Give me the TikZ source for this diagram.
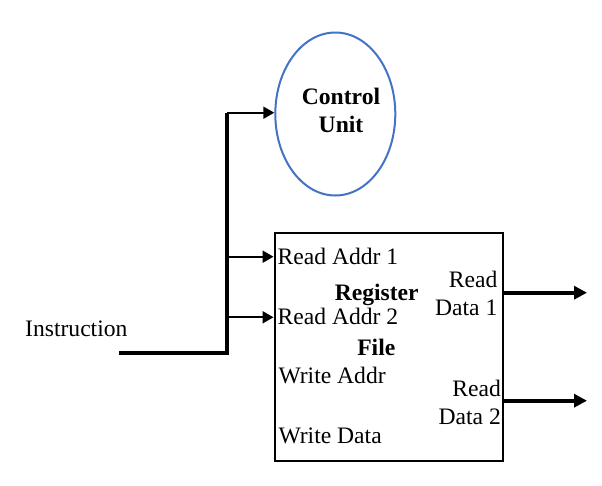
\documentclass[tikz,border=0pt]{standalone}
\usepackage{fontspec}
\setmainfont{Liberation Serif}
\usetikzlibrary{arrows.meta, shapes.geometric}
\definecolor{cublue}{RGB}{68,114,196}

\tikzset{
	lbl/.style={inner sep=0pt, font=\fontsize{23.6}{28}\selectfont},
	blbl/.style={lbl, font=\fontsize{23.6}{28}\selectfont\bfseries},
	bus/.style={line width=4pt},
	wire/.style={line width=2pt, -{Triangle[length=11pt,width=12pt]}},
	outwire/.style={line width=4pt, -{Triangle[length=13pt,width=13pt]}}
}

\begin{document}
\begin{tikzpicture}[x=1pt, y=-1pt]
	\useasboundingbox (0,0) rectangle (602,485);
	% control unit
	\node [ellipse, draw=cublue, line width=2pt, minimum width=120pt, minimum height=163pt] (cu) at (335.3,114) {};
	\node [blbl, align=center, anchor=base] (cutext) at (341,132.7) {Control\\Unit};
	% register file
	\node [draw, line width=2pt, minimum width=228pt, minimum height=228pt, inner sep=0pt] (rf) at (388.5,346.7) {};
	\node [lbl, anchor=base west] (ra1) at (277.5,264.3) {Read Addr 1};
	\node [lbl, anchor=base west] (ra2) at (277.5,324.3) {Read Addr 2};
	\node [lbl, anchor=base west] (wa) at (278.3,383.3) {Write Addr};
	\node [lbl, anchor=base west] (wd) at (278.3,443.3) {Write Data};
	\node [blbl, anchor=base] (rftop) at (376.7,300) {Register};
	\node [blbl, anchor=base] (rfbot) at (376.3,355.7) {File};
	\node [lbl, align=right, anchor=base east] (rd1) at (497.5,315.7) {Read\\Data 1};
	\node [lbl, align=right, anchor=base east] (rd2) at (501,424.3) {Read\\Data 2};
	% instruction bus
	\node [lbl, anchor=base west] (instr) at (25,336) {Instruction};
	\coordinate (busin) at (119,353.3);
	\coordinate (busjoin) at (227,353.3);
	\coordinate (bustop) at (227,112.7);
	\coordinate (a1) at (227,256.7);
	\coordinate (a2) at (227,317.3);
	\draw [bus] (busin) -- (busjoin) -- (bustop);
	\draw [wire] (bustop) -- (bustop -| cu.west);
	\draw [wire] (a1) -- (a1 -| rf.west);
	\draw [wire] (a2) -- (a2 -| rf.west);
	% outputs
	\coordinate (out1) at (587,292.7);
	\coordinate (out2) at (587,400.7);
	\draw [outwire] (rf.east |- out1) -- (out1);
	\draw [outwire] (rf.east |- out2) -- (out2);
\end{tikzpicture}
\end{document}
